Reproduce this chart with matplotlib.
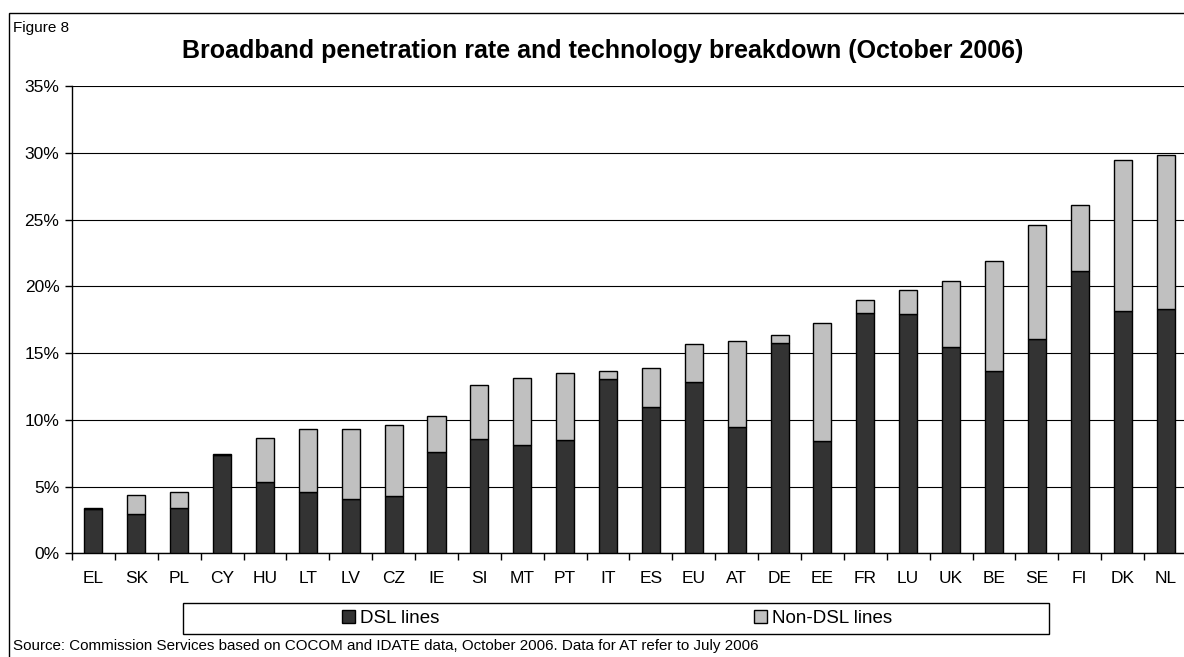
import matplotlib.pyplot as plt
from matplotlib.patches import Rectangle
from matplotlib.ticker import FixedLocator, PercentFormatter

plt.rcParams['font.family'] = ['Liberation Sans', 'DejaVu Sans']

# penetration rate (%) by country, split in DSL / non-DSL
countries = ['EL', 'SK', 'PL', 'CY', 'HU', 'LT', 'LV', 'CZ', 'IE', 'SI', 'MT', 'PT', 'IT',
             'ES', 'EU', 'AT', 'DE', 'EE', 'FR', 'LU', 'UK', 'BE', 'SE', 'FI', 'DK', 'NL']
dsl = [3.3, 2.94, 3.42, 7.35, 5.36, 4.57, 4.04, 4.31, 7.59, 8.59, 8.13, 8.49, 13.06,
       10.96, 12.86, 9.48, 15.73, 8.43, 17.98, 17.93, 15.48, 13.66, 16.08, 21.17, 18.15, 18.32]
non_dsl = [0.07, 1.4, 1.15, 0.06, 3.25, 4.72, 5.25, 5.3, 2.72, 4.04, 5.02, 4.99, 0.62,
           2.94, 2.84, 6.4, 0.65, 8.84, 1.02, 1.79, 4.94, 8.21, 8.51, 4.9, 11.31, 11.54]

fig = plt.figure(figsize=(11.84, 6.57), dpi=100)
ax = fig.add_axes([0.0608, 0.1578, 0.9417, 0.7113])

x = range(len(countries))
ax.bar(x, dsl, width=0.42, color='#333333', edgecolor='black', linewidth=1,
       label='DSL lines', zorder=3)
ax.bar(x, non_dsl, width=0.42, bottom=dsl, color='#c0c0c0', edgecolor='black',
       linewidth=1, label='Non-DSL lines', zorder=3)

ax.set_xlim(-0.5, len(countries) - 0.5)
ax.set_ylim(0, 35)
ax.set_yticks(range(0, 36, 5))
ax.yaxis.set_major_formatter(PercentFormatter(decimals=0))
ax.set_xticks(list(x))
ax.set_xticklabels(countries)
ax.xaxis.set_minor_locator(FixedLocator([i - 0.5 for i in range(len(countries) + 1)]))
ax.tick_params(axis='x', which='major', length=0, pad=13, labelsize=12.5)
ax.tick_params(axis='x', which='minor', length=5, width=1, direction='out')
ax.tick_params(axis='y', length=5, width=1, labelsize=12.5, pad=4)
ax.grid(axis='y', color='black', linewidth=0.8, zorder=0)
ax.spines['top'].set_visible(False)
ax.spines['right'].set_visible(False)
ax.spines['left'].set_linewidth(1)
ax.spines['bottom'].set_linewidth(1)

fig.text(0.509, 0.923, 'Broadband penetration rate and technology breakdown (October 2006)',
         ha='center', va='center', fontsize=18, fontweight='bold')
fig.text(0.011, 0.958, 'Figure 8', fontsize=11, va='center')
fig.text(0.011, 0.017, 'Source: Commission Services based on COCOM and IDATE data, '
         'October 2006. Data for AT refer to July 2006', fontsize=10.9, va='center')

# outer frame
fig.patches.append(Rectangle((0.0076, -0.01), 1.1, 0.99, transform=fig.transFigure,
                             fill=False, edgecolor='black', linewidth=1))
# legend box
fig.patches.append(Rectangle((183 / 1184, 1 - 634 / 657), 866 / 1184, 31 / 657,
                             transform=fig.transFigure, fill=False, edgecolor='black',
                             linewidth=1))
fig.legend(loc='center', bbox_to_anchor=(617 / 1184, 1 - 618.5 / 657), ncol=2,
           frameon=False, fontsize=13.5, handlelength=0.67, handleheight=0.67,
           handletextpad=0.27, columnspacing=16.8)

fig.savefig('out.png', dpi=100)
